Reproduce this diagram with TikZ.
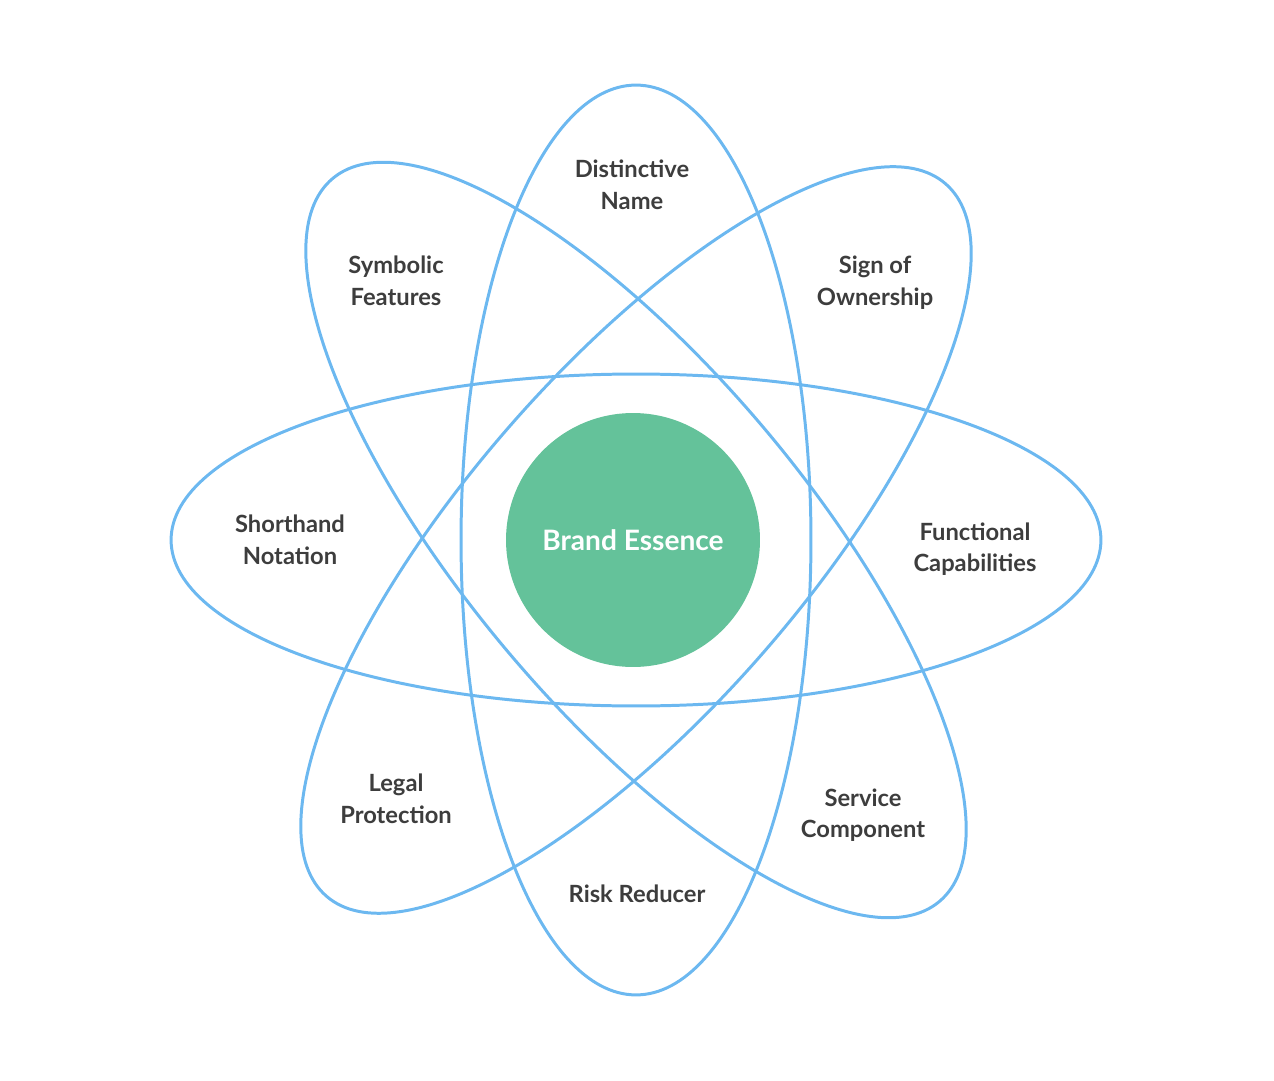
\documentclass[tikz,border=0pt]{standalone}
\usepackage{fontspec}
\setmainfont{Lato}
\usetikzlibrary{positioning}
\definecolor{orbit}{HTML}{6CB8F0}
\definecolor{essence}{HTML}{64C29A}
\definecolor{labeltext}{HTML}{3D3D3D}

\begin{document}
\begin{tikzpicture}[x=0.02cm,y=0.02cm]
    \tikzstyle{orbit line}=[draw=orbit, line width=1.7pt]
    \tikzstyle{item}=[text=labeltext, font=\bfseries\fontsize{13.5}{18}\selectfont, align=center]
    \useasboundingbox (0,0) rectangle (1274,1080);

    % Orbits
    \coordinate (C) at (636,540);
    \draw[orbit line] (C) ellipse [x radius=9.3cm, y radius=3.32cm];
    \draw[orbit line] (C) ellipse [x radius=3.5cm, y radius=9.1cm];
    \draw[orbit line, rotate around={130:(C)}] (C) ellipse [x radius=9.44cm, y radius=3.4cm];
    \draw[orbit line, rotate around={49:(C)}] (C) ellipse [x radius=9.44cm, y radius=3.4cm];

    % Core
    \node[circle, fill=essence, minimum size=5.08cm, inner sep=0pt, text=white,
          font=\bfseries\fontsize{16}{20}\selectfont] (essence) at (633,540) {Brand Essence};

    % Labels
    \node[item] (name) at (632,895) {Distinctive\\Name};
    \node[item] (symbolic) at (396,799) {Symbolic\\Features};
    \node[item] (ownership) at (875,797) {Sign of\\Ownership};
    \node[item] (shorthand) at (290,540) {Shorthand\\Notation};
    \node[item] (functional) at (975,531) {Functional\\Capabilities};
    \node[item] (legal) at (396,281) {Legal\\Protection};
    \node[item] (service) at (863,265) {Service\\Component};
    \node[item] (risk) at (637,186) {Risk Reducer};
\end{tikzpicture}
\end{document}
